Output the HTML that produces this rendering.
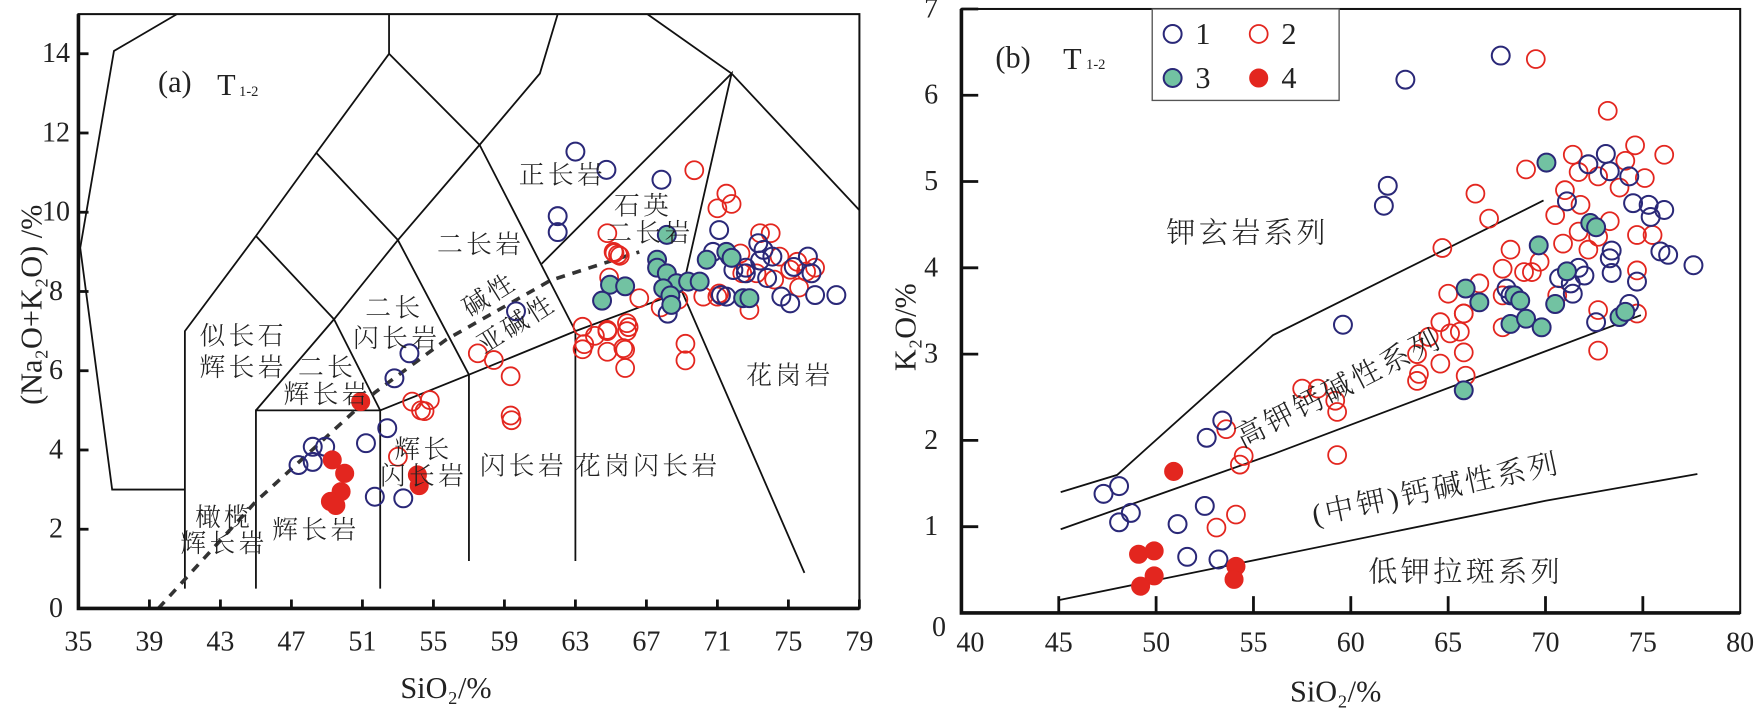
<!DOCTYPE html>
<html><head><meta charset="utf-8"><style>
html,body{margin:0;padding:0;background:#fff;}
svg{display:block}
text{font-family:"Liberation Serif","Noto Serif CJK SC",serif;fill:#222}
.cn{font-family:"Liberation Serif","Noto Serif CJK SC","Noto Sans CJK SC",serif;font-weight:300;letter-spacing:3px}
</style></head><body>
<svg id="chart" width="1757" height="710" viewBox="0 0 1568 633.6" preserveAspectRatio="none" xmlns="http://www.w3.org/2000/svg">
<g id="pa"></g>
<g id="pb"></g>
</svg>
<script>
// ---------- Panel A data (SiO2, Na2O+K2O) ----------
const aTicksX=[35,39,43,47,51,55,59,63,67,71,75,79];
const aTicksY=[0,2,4,6,8,10,12,14];
const aS1x=[63.0,64.75,62.0,62.0,67.85,52.8,53.65,52.4,51.2,51.7,53.3,48.2,48.9,48.2,47.4,59.65,71.1,70.75,71.7,73.3,73.6,73.4,71.9,72.6,74.1,75.3,76.1,76.3,74.6,75.1,76.5,77.7,71.2,71.5,72.6,73.8,68.2];
const aS1y=[11.53,11.07,9.9,9.5,10.82,5.81,6.44,4.55,4.17,2.82,2.78,4.08,4.08,3.7,3.62,7.5,9.55,9.0,8.88,9.22,9.05,8.78,8.54,8.46,8.88,8.62,8.88,8.46,7.87,7.7,7.91,7.91,7.91,7.87,8.6,8.34,7.44];
const aS2x=[53.8,54.8,54.3,54.5,53.0,59.35,59.35,59.4,57.5,58.4,63.4,63.5,64.1,64.8,64.8,65.8,66.0,65.8,63.4,66.6,69.2,69.2,64.8,65.2,65.5,64.9,69.7,71.5,71.8,71.0,65.15,65.4,64.8,65.9,65.9,65.7,67.8,68.8,70.2,71.1,72.8,73.4,74.0,74.5,75.1,76.0,76.5,75.5,73.2,74.2,75.6,72.3,72.4,71.0];
const aS2y=[5.22,5.26,5.0,4.98,3.83,5.86,4.87,4.75,6.44,6.27,7.11,6.67,6.88,7.03,6.48,6.53,7.1,6.07,6.54,7.83,6.68,6.26,9.47,8.97,8.9,8.35,11.06,10.47,10.21,10.1,9.0,8.93,7.0,7.2,7.0,6.57,7.6,7.79,7.87,7.95,7.53,9.47,9.47,8.88,8.55,8.5,8.6,8.75,8.46,8.3,8.1,8.96,8.46,7.87];
const aS3x=[68.15,67.6,67.6,68.15,68.7,69.35,70.0,67.95,68.35,68.4,64.95,65.8,64.5,70.4,71.5,71.8,72.45,72.8];
const aS3y=[9.43,8.8,8.6,8.46,8.21,8.25,8.25,8.08,7.9,7.66,8.17,8.13,7.77,8.8,9.0,8.85,7.83,7.83];
const aS4x=[50.9,49.3,50.0,49.8,49.2,49.5,54.1,54.2];
const aS4y=[5.22,3.75,3.41,2.95,2.7,2.6,3.37,3.1];
const aBounds=[
 [[40.55,15],[37.0,14.07],[35.1,9.1],[36.9,3.0],[41,3.0]],
 [[41,0.5],[41,7],[45,9.4],[48.4,11.5],[52.5,14],[52.5,15]],
 [[45,0.5],[45,5],[52,5],[52,0.5]],
 [[52,5],[57,5.9],[63,7],[69,8],[75.9,0.9]],
 [[57,1.2],[57,5.9]],[[63,1.2],[63,7]],
 [[45,5],[49.4,7.3],[53,9.3],[57.6,11.7],[61,13.5],[62,15]],
 [[45,9.4],[49.4,7.3],[52,5]],
 [[48.4,11.5],[53,9.3],[57,5.9]],
 [[52.5,14],[57.6,11.7],[63,7]],
 [[61.1,8.7],[71.8,13.5],[69,8]],
 [[67.05,15],[71.8,13.5],[79,10.05]]
];
const aAlkLine=[[39.5,0],[45,2.7],[51.7,5.45],[55.7,6.78],[61.6,8.28],[66.6,9.0]];

// ---------- Panel B data (SiO2, K2O) ----------
const bTicksX=[40,45,50,55,60,65,70,75,80];
const bTicksY=[1,2,3,4,5,6,7];
const bS1x=[67.7,62.8,61.9,61.7,73.1,72.2,73.3,74.3,71.1,74.5,75.3,76.1,75.4,75.9,76.3,77.6,73.4,73.3,73.4,71.7,72.0,71.3,71.4,70.7,74.7,74.3,72.6,59.6,68.0,68.2,53.4,52.6,47.3,48.1,48.7,48.1,51.1,52.5,51.6,53.2];
const bS1y=[6.46,6.18,4.95,4.72,5.32,5.2,5.12,5.06,4.77,4.75,4.73,4.67,4.59,4.19,4.15,4.03,4.2,4.11,3.94,4.0,3.91,3.82,3.7,3.88,3.84,3.58,3.37,3.34,3.76,3.68,2.23,2.03,1.38,1.47,1.16,1.05,1.03,1.24,0.65,0.62];
const bS2x=[69.5,73.2,74.6,76.1,71.4,69.0,71.7,72.7,74.1,75.1,73.8,71.0,66.4,71.8,70.5,67.1,73.3,71.7,74.7,75.5,72.7,70.9,64.7,68.2,72.2,69.7,67.8,68.9,69.3,74.7,66.6,65.0,67.8,70.6,65.8,72.7,74.7,72.7,65.8,64.6,63.4,63.4,63.5,65.9,64.6,64.0,65.1,65.6,65.8,67.8,57.5,58.3,59.2,59.3,59.3,53.6,54.5,54.3,53.1,54.1];
const bS2y=[6.42,5.82,5.42,5.31,5.31,5.14,5.11,5.06,5.24,5.04,4.93,4.9,4.86,4.73,4.61,4.57,4.54,4.42,4.38,4.38,4.36,4.28,4.23,4.21,4.21,4.07,3.99,3.95,3.95,3.97,3.82,3.7,3.68,3.68,3.47,3.51,3.47,3.04,3.02,2.89,3.0,2.69,2.77,2.75,3.37,3.2,3.24,3.26,3.47,3.31,2.6,2.6,2.46,2.33,1.83,2.13,1.82,1.72,0.99,1.14];
const bS3x=[70.05,72.3,72.6,69.65,71.1,65.9,66.6,68.4,68.7,70.5,68.2,69.0,69.8,73.8,74.1,65.8];
const bS3y=[5.22,4.52,4.47,4.26,3.96,3.76,3.6,3.68,3.62,3.58,3.35,3.41,3.31,3.43,3.49,2.58];
const bS4x=[50.9,49.1,49.9,49.9,49.2,54.1,54.0];
const bS4y=[1.64,0.68,0.72,0.43,0.31,0.54,0.39];
const bBounds=[
 [[45.1,1.4],[48,1.6],[56,3.22],[69.9,4.78]],
 [[45.1,0.97],[56,1.84],[74.9,3.45]],
 [[45,0.15],[70,1.3],[77.8,1.61]]
];

function xa(d){return 70+(d-35)*15.84;}
function ya(v){return 543-v*35.36;}
function xb(d){return 858+(d-40)*17.375;}
function yb(v){return 547-v*77;}

const NS="http://www.w3.org/2000/svg";
function mk(tag,parent,attrs){const e=document.createElementNS(NS,tag);for(const k in attrs)e.setAttribute(k,attrs[k]);parent.appendChild(e);return e;}
const pa=document.getElementById('pa'), pb=document.getElementById('pb');
const BLUE='#2a2878', RED='#e3261f', GREEN='#72c2a2';

function polyline(parent,pts,fx,fy,name,extra){
  const d=pts.map(p=>fx(p[0]).toFixed(1)+','+fy(p[1]).toFixed(1)).join(' ');
  const e=mk('polyline',parent,Object.assign({points:d,fill:'none',stroke:'#111','stroke-width':1.6},extra||{}));
  
  
}
function txt(parent,x,y,s,size,name,cls,rot){
  const e=mk('text',parent,{x:x,y:y,'font-size':size,'text-anchor':'middle','dominant-baseline':'central'});
  if(cls)e.setAttribute('class',cls);
  if(rot)e.setAttribute('transform','rotate('+rot+' '+x+' '+y+')');
  e.textContent=s;
  
  
  return e;
}
function points(parent,xs,ys,fx,fy,kind,name){
  for(let i=0;i<xs.length;i++){
    let a;
    if(kind===1)a={fill:'none',stroke:BLUE,'stroke-width':1.8};
    else if(kind===2)a={fill:'none',stroke:RED,'stroke-width':1.6};
    else if(kind===3)a={fill:GREEN,stroke:BLUE,'stroke-width':1.8};
    else a={fill:RED,stroke:RED,'stroke-width':1};
    a.cx=fx(xs[i]).toFixed(1);a.cy=fy(ys[i]).toFixed(1);a.r=8;
    const c=mk('circle',parent,a);
    
    
  }
}

// ---------- Panel A ----------
aBounds.forEach(b=>polyline(pa,b,xa,ya,'tas-boundary'));
polyline(pa,aAlkLine,xa,ya,'alkaline-subalkaline-line',{stroke:'#333','stroke-width':3.2,'stroke-dasharray':'8 7'});
points(pa,aS2x,aS2y,xa,ya,2,'series-2-point');
points(pa,aS1x,aS1y,xa,ya,1,'series-1-point');
points(pa,aS3x,aS3y,xa,ya,3,'series-3-point');
points(pa,aS4x,aS4y,xa,ya,4,'series-4-point');
let fa=mk('rect',pa,{x:xa(35),y:ya(15),width:xa(79)-xa(35),height:ya(0)-ya(15),fill:'none',stroke:'#111','stroke-width':1.8});


let axA=mk('path',pa,{d:'M'+xa(35)+' '+ya(15)+'V'+ya(0)+'H'+xa(79),fill:'none',stroke:'#111','stroke-width':3.2});


aTicksX.forEach(v=>{
  const t=mk('line',pa,{x1:xa(v),x2:xa(v),y1:ya(0),y2:ya(0)-8,stroke:'#111','stroke-width':2.5});
  
  
  txt(pa,xa(v),573,String(v),25,'x-tick-label');
});
aTicksY.forEach(v=>{
  const t=mk('line',pa,{x1:xa(35),x2:xa(35)+9,y1:ya(v),y2:ya(v),stroke:'#111','stroke-width':2.5});
  
  
  txt(pa,50,ya(v),String(v),25,'y-tick-label');
});
txt(pa,398,614,'SiO₂/%',27,'x-axis-title');
txt(pa,28,272,'(Na₂O+K₂O) /%',27,'y-axis-title',null,-90);
txt(pa,156,73,'(a)',27,'panel-a-tag');
txt(pa,202,76,'T',27,'panel-a-period');
txt(pa,222,82,'1-2',13,'panel-a-period-sub');
const aLabels=[['正长岩',502,156],['石英',574,184],['二长岩',580,208],['二长岩',429,218],['二长',352,275],['闪长岩',354,302],
['似长石',217,300],['辉长岩',217,328],['二长',292,328],['辉长岩',292,352],['辉长',378,401],['闪长岩',378,425],
['闪长岩',467,416],['花岗闪长岩',578,416],['花岗岩',705,335],['橄榄',200,462],['辉长岩',200,485],['辉长岩',282,473]];
aLabels.forEach(l=>txt(pa,l[1],l[2],l[0],23,'rock-field-label','cn'));
txt(pa,437,263,'碱性',23,'alkaline-label','cn',-32);
txt(pa,461,289,'亚碱性',23,'subalkaline-label','cn',-32);

// ---------- Panel B ----------
bBounds.forEach(b=>polyline(pb,b,xb,yb,'series-boundary'));
points(pb,bS2x,bS2y,xb,yb,2,'series-2-point');
points(pb,bS1x,bS1y,xb,yb,1,'series-1-point');
points(pb,bS3x,bS3y,xb,yb,3,'series-3-point');
points(pb,bS4x,bS4y,xb,yb,4,'series-4-point');
let fb=mk('rect',pb,{x:xb(40),y:yb(7),width:xb(80)-xb(40),height:yb(0)-yb(7),fill:'none',stroke:'#111','stroke-width':1.8});


let axB=mk('path',pb,{d:'M'+xb(40)+' '+yb(7)+'V'+yb(0)+'H'+xb(80),fill:'none',stroke:'#111','stroke-width':3.2});


bTicksX.forEach(v=>{
  if(v>40&&v<80){
    const t=mk('line',pb,{x1:xb(v),x2:xb(v),y1:yb(0),y2:yb(0)-15,stroke:'#111','stroke-width':2.5});
    
    
  }
  txt(pb,xb(v)+(v===40?8:0),574,String(v),25,'x-tick-label');
});
bTicksY.forEach(v=>{
  const t=mk('line',pb,{x1:xb(40),x2:xb(40)+15,y1:yb(v),y2:yb(v),stroke:'#111','stroke-width':2.5});
  
  
  txt(pb,831,yb(v),String(v),25,'y-tick-label');
});
txt(pb,838,560,'0',25,'y-tick-label');
txt(pb,1192,617,'SiO₂/%',27,'x-axis-title');
txt(pb,808,292,'K₂O/%',27,'y-axis-title',null,-90);
txt(pb,xb(42.65),yb(6.44),'(b)',27,'panel-b-tag');
txt(pb,xb(45.7),yb(6.42),'T',27,'panel-b-period');
txt(pb,xb(46.9),yb(6.35),'1-2',13,'panel-b-period-sub');
txt(pb,xb(54.7),yb(4.4),'钾玄岩系列',26,'shoshonite-series-label','cn');
txt(pb,xb(59.4),yb(2.6),'高钾钙碱性系列',26,'high-k-calc-alkaline-label','cn',-27);
txt(pb,xb(64.4),yb(1.43),'(中钾)钙碱性系列',26,'calc-alkaline-label','cn',-12);
txt(pb,xb(65.9),yb(0.47),'低钾拉斑系列',26,'low-k-tholeiite-label','cn');
const lg=mk('g',pb,{});


const lb=mk('rect',lg,{x:xb(49.8),y:yb(7),width:xb(59.4)-xb(49.8),height:yb(5.94)-yb(7),fill:'#fff',stroke:'#555','stroke-width':1.2});


const legKinds=[1,2,3,4];
const legX=[50.85,55.27,50.85,55.27];
const legY=[6.71,6.71,6.2,6.2];
legKinds.forEach((k,i)=>{
  points(lg,[legX[i]],[legY[i]],xb,yb,k,'legend-marker');
  txt(lg,xb(legX[i])+27,yb(legY[i]),String(k),27,'legend-entry');
});
</script>
</body></html>
